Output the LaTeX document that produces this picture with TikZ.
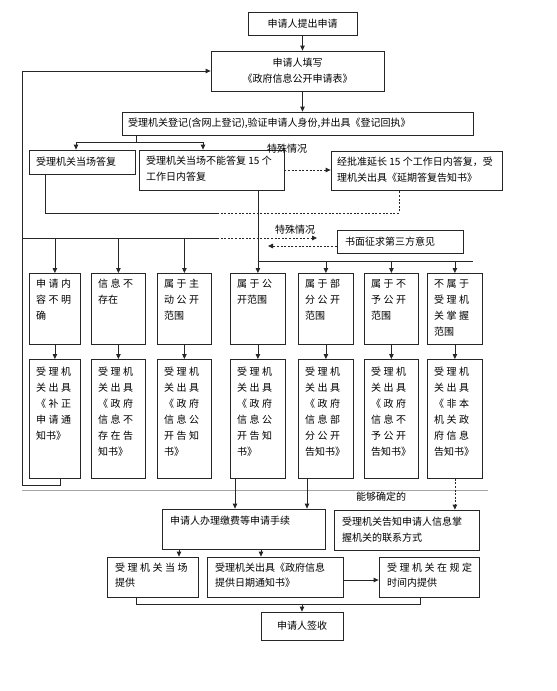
\documentclass[tikz,border=0pt]{standalone}
\usepackage{fontspec}
\setmainfont{Noto Sans CJK SC}
\usetikzlibrary{arrows.meta}
\newcommand{\sprd}[1]{\sprdA#1\relax}
\def\sprdA#1{\ifx#1\relax\else#1\kern2.5pt\relax\expandafter\sprdA\fi}
\begin{document}
\begin{tikzpicture}[x=1pt,y=-1pt,
  box/.style={draw=black!85, line width=0.8pt, inner sep=0pt},
  txt/.style={inner sep=0pt, font=\fontsize{10}{16}\selectfont, align=left},
  txtc/.style={inner sep=0pt, font=\fontsize{10}{16}\selectfont, align=center},
  lbl/.style={inner sep=0pt, font=\fontsize{10}{12}\selectfont},
  ln/.style={line width=0.8pt, draw=black!85},
  arr/.style={ln, -{Triangle[length=5pt,width=4.5pt]}},
  dsh/.style={dash pattern=on 2pt off 1.6pt}]
\useasboundingbox (0,0) rectangle (557,691);
\fill[white] (0,0) rectangle (557,691);

% ---- top boxes
\node[box, minimum width=109pt, minimum height=23pt] (B1) at (302.5,23.5) {};
\node[txtc] (B1t) at (B1.center) {申请人提出申请};
\node[box, minimum width=173pt, minimum height=40pt] (B2) at (297.5,71) {};
\node[txtc] (B2t) at (B2.center) {申请人填写\\《政府信息公开申请表》};
\node[box, minimum width=351pt, minimum height=23pt] (B3) at (297.5,123.5) {};
\node[txt, anchor=west] (B3t) at (128,123.5) {受理机关登记(含网上登记),验证申请人身份,并出具《登记回执》};

% ---- second row
\node[box, minimum width=106pt, minimum height=24pt] (C1) at (82,162) {};
\node[txt, anchor=west] (C1t) at (36,162) {受理机关当场答复};
\node[box, minimum width=145pt, minimum height=40pt] (C2) at (211.5,170) {};
\node[txt, anchor=north west, font=\fontsize{10}{15.5}\selectfont] (C2t) at (146,156) {受理机关当场不能答复 15 个\\工作日内答复};
\node[box, minimum width=171pt, minimum height=39pt] (C3) at (416.5,170.5) {};
\node[txt, anchor=north west, font=\fontsize{10}{15.5}\selectfont] (C3t) at (337,157) {经批准延长 15 个工作日内答复，受\\理机关出具《延期答复告知书》};
\node[lbl] (L1) at (287,149) {特殊情况};

\node[box, minimum width=126pt, minimum height=23pt] (K) at (400,241.5) {};
\node[txt, anchor=west] (Kt) at (345,241.5) {书面征求第三方意见};
\node[lbl] (L2) at (295,230) {特殊情况};

% ---- columns
\newcommand{\colD}[3]{%
  \node[box, anchor=north west, minimum width=#2pt, minimum height=71pt] (D#1) at (#3,273) {};}
\newcommand{\colE}[3]{%
  \node[box, anchor=north west, minimum width=#2pt, minimum height=119pt] (E#1) at (#3,359) {};}
\colD{1}{51}{29}  \colE{1}{51}{29}
\colD{2}{54}{91}  \colE{2}{54}{91}
\colD{3}{54}{157} \colE{3}{54}{157}
\colD{4}{55}{230} \colE{4}{55}{230}
\colD{5}{55}{298} \colE{5}{55}{298}
\colD{6}{54}{364} \colE{6}{54}{364}
\colD{7}{55}{427} \colE{7}{55}{427}

\node[txt, anchor=north west] (D1t) at (36,279) {\sprd{申请内}\\\sprd{容不明}\\确};
\node[txt, anchor=north west] (D2t) at (98,279) {\sprd{信息不}\\存在};
\node[txt, anchor=north west] (D3t) at (164,279) {\sprd{属于主}\\\sprd{动公开}\\范围};
\node[txt, anchor=north west] (D4t) at (237,279) {\sprd{属于公}\\开范围};
\node[txt, anchor=north west] (D5t) at (305,279) {\sprd{属于部}\\\sprd{分公开}\\范围};
\node[txt, anchor=north west] (D6t) at (371,279) {\sprd{属于不}\\\sprd{予公开}\\范围};
\node[txt, anchor=north west] (D7t) at (434,279) {\sprd{不属于}\\\sprd{受理机}\\\sprd{关掌握}\\范围};

\node[txt, anchor=north west] (E1t) at (36,367) {\sprd{受理机}\\\sprd{关出具}\\\sprd{《补正}\\\sprd{申请通}\\知书》};
\node[txt, anchor=north west] (E2t) at (98,367) {\sprd{受理机}\\\sprd{关出具}\\\sprd{《政府}\\\sprd{信息不}\\\sprd{存在告}\\知书》};
\node[txt, anchor=north west] (E3t) at (164,367) {\sprd{受理机}\\\sprd{关出具}\\\sprd{《政府}\\\sprd{信息公}\\\sprd{开告知}\\书》};
\node[txt, anchor=north west] (E4t) at (237,367) {\sprd{受理机}\\\sprd{关出具}\\\sprd{《政府}\\\sprd{信息公}\\\sprd{开告知}\\书》};
\node[txt, anchor=north west] (E5t) at (305,367) {\sprd{受理机}\\\sprd{关出具}\\\sprd{《政府}\\\sprd{信息部}\\\sprd{分公开}\\告知书》};
\node[txt, anchor=north west] (E6t) at (371,367) {\sprd{受理机}\\\sprd{关出具}\\\sprd{《政府}\\\sprd{信息不}\\\sprd{予公开}\\告知书》};
\node[txt, anchor=north west] (E7t) at (434,367) {\sprd{受理机}\\\sprd{关出具}\\\sprd{《非本}\\\sprd{机关政}\\\sprd{府信息}\\告知书》};

% ---- bottom boxes
\node[box, minimum width=163pt, minimum height=40pt] (F1) at (243.5,529) {};
\node[txt, anchor=north west] (F1t) at (170,516) {申请人办理缴费等申请手续};
\node[box, minimum width=145pt, minimum height=40pt] (G) at (406.5,530) {};
\node[txt, anchor=north west, font=\fontsize{10}{15.5}\selectfont] (Gt) at (342,517) {受理机关告知申请人信息掌\\握机关的联系方式};
\node[lbl] (L3) at (381,497) {能够确定的};
\node[box, minimum width=91pt, minimum height=40pt] (H1) at (152.5,577) {};
\node[txt, anchor=north west, font=\fontsize{10}{15}\selectfont] (H1t) at (115,563) {\sprd{受理机关当场}\\提供};
\node[box, minimum width=136pt, minimum height=40pt] (H2) at (275,577) {};
\node[txt, anchor=north west, font=\fontsize{10}{15}\selectfont] (H2t) at (215,563) {受理机关出具《政府信息\\提供日期通知书》};
\node[box, minimum width=100pt, minimum height=40pt] (H3) at (429,577) {};
\node[txt, anchor=north west, font=\fontsize{10}{15}\selectfont] (H3t) at (387,563) {\sprd{受理机关在规定}\\时间内提供};
\node[box, minimum width=82pt, minimum height=28pt] (I) at (302,626) {};
\node[txtc] (It) at (I.center) {申请人签收};

% ---- coordinates
\coordinate (f0) at (136,142);
\coordinate (j1) at (45,213);
\coordinate (j2) at (217,213);
\coordinate (j3) at (399,213);
\coordinate (L0) at (22,238);
\coordinate (m1) at (217,238);
\coordinate (m2) at (317,238);
\coordinate (k1) at (268,246);
\coordinate (n1) at (257.5,261);
\coordinate (n2) at (473,261);
\coordinate (fb1) at (60,485);
\coordinate (fb2) at (22,485);
\coordinate (g1) at (22,490);
\coordinate (g2) at (488,490);
\coordinate (p4) at (235,478);
\coordinate (p5) at (307,478);
\coordinate (q1) at (179,549);
\coordinate (q2) at (261,549);
\coordinate (r1) at (136,604);
\coordinate (r2) at (420,604);

% ---- connectors
\draw[arr] (B1.south) -- (B1.south |- B2.north);
\draw[arr] (B1.south |- B2.south) -- (B1.south |- B3.north);
\draw[ln] (B3.south -| f0) -- (f0);
\draw[arr] (f0) -| ([xshift=-6pt]C1.north);
\draw[arr] (f0) -| ([xshift=-8.5pt]C2.north);
\draw[arr, dsh] (C2.east) -- (C2.east -| C3.west);
\draw[ln] (C1.south -| j1) -- (j1) -- (j2);
\draw[ln, dsh] (j2) -- (j3) -- (C3.south -| j3);
\draw[arr] (C2.south -| D4.north) -- (D4.north);
\draw[ln] (L0) -- (m1);
\draw[arr, dsh] (m1) -- (m2);
\draw[arr, dsh] ([yshift=-4.5pt]K.west) -- (k1);
\draw[arr] (D1.north |- L0) -- (D1.north);
\draw[arr] (D2.north |- L0) -- (D2.north);
\draw[arr] (D3.north |- L0) -- (D3.north);
\draw[ln] (n1) -- (n2);
\draw[arr] (D5.north |- n1) -- (D5.north);
\draw[arr] (D6.north |- n1) -- (D6.north);
\draw[arr] (D7.north |- n1) -- (D7.north);
\foreach \i in {1,...,7} {\draw[arr] (D\i.south) -- (E\i.north);}
\draw[arr] (E1.south -| fb1) -- (fb1) -- (fb2) -- (fb2 |- B2.west) -- (B2.west);
\draw[gray!70, line width=0.7pt] (g1) -- (g2);
\draw[arr] (p4) -- (p4 |- F1.north);
\draw[arr] (p5) -- (p5 |- F1.north);
\draw[arr, dsh] (E7.south) -- (E7.south |- G.north);
\draw[arr] (q1) -- (q1 |- H1.north);
\draw[arr] (q2) -- (q2 |- H2.north);
\draw[arr] ([yshift=-3pt]H2.east) -- ([yshift=-3pt]H2.east -| H3.west);
\draw[ln] (H1.south -| r1) -- (r1) -- (r2) -- (H3.south -| r2);
\draw[arr] (I.north |- r1) -- (I.north);
\end{tikzpicture}
\end{document}
